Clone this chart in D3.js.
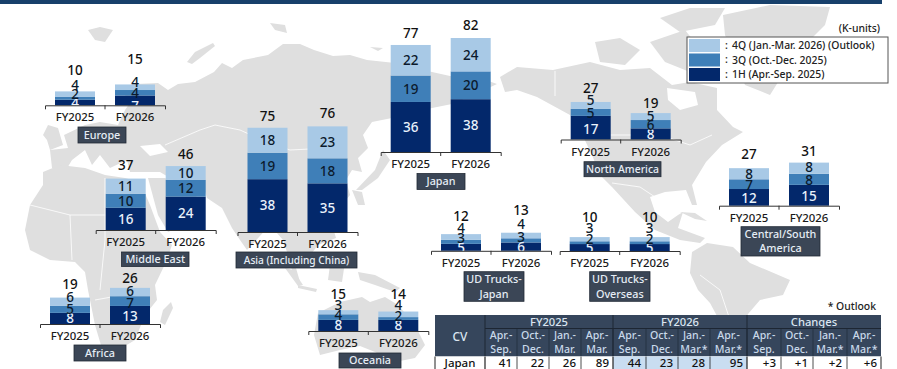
<!DOCTYPE html>
<html><head><meta charset="utf-8">
<script src="https://cdn.jsdelivr.net/npm/d3@7/dist/d3.min.js"></script>
<style>
html,body{margin:0;padding:0;background:#fff}
svg{display:block}
text{font-family:"Noto Sans",sans-serif;font-weight:500}
</style></head><body><svg id="c" width="897" height="369"></svg>
<script>
// ---------- data ----------
const years = ["FY2025","FY2026"];
const quarters = ["1H (Apr.-Sep. 2025)","3Q (Oct.-Dec. 2025)","4Q (Jan.-Mar. 2026) (Outlook)"];
const regions = ["Europe","Middle East","Africa","Asia (Including China)","Japan","North America","Central/South America","UD Trucks-Japan","UD Trucks-Overseas","Oceania"];
const fy2025Values = [[4,2,4],[16,10,11],[8,5,6],[38,19,18],[36,19,22],[17,5,5],[12,7,8],[5,3,4],[5,2,3],[8,4,3]];
const fy2026Values = [[7,4,4],[24,12,10],[13,7,6],[35,18,23],[38,20,24],[8,6,5],[15,8,8],[6,3,4],[5,2,3],[8,2,4]];
const fy2025Totals = [10,37,19,75,77,27,27,12,10,15];
const fy2026Totals = [15,46,26,76,82,19,31,13,10,14];
const tableGroups = ["FY2025","FY2026","Changes"];
const tableHead1 = ["Apr.-","Oct.-","Jan.-","Apr.-","Apr.-","Oct.-","Jan.-","Apr.-","Apr.-","Oct.-","Jan.-","Apr.-"];
const tableHead2 = ["Sep.","Dec.","Mar.","Mar.","Sep.","Dec.","Mar.*","Mar.*","Sep.","Dec.","Mar.*","Mar.*"];
const tableRowName = "Japan";
const tableRow = ["41","22","26","89","44","23","28","95","+3","+1","+2","+6"];

// ---------- layout (positions, not data) ----------
const layout = {
 "Europe":{x:45,base:105.3,box:[78,127,126,143],
   n25:[1,-4,-9,-9],n26:[6,0,-5,-13]},
 "Middle East":{x:95.7,base:230,box:[121.5,252,189,266.5],n25:[0,0,0,-1],n26:[0,0,0,0]},
 "Africa":{x:40,base:324,box:[74,345,126,361],n25:[0,0,-5,-1.5],n26:[1,2,-1,2]},
 "Asia (Including China)":{x:237.5,base:232,box:[236,252,357,268],n25:[0,0,0,0],n26:[0,0,0,-1]},
 "Japan":{x:380.7,base:152,box:[417,173.5,465,189.5],n25:[0,0,0,0],n26:[0,0,0,-1]},
 "North America":{x:560.7,base:139.5,box:[584,161.7,661,176.7],n25:[1,1,-5,-2],n26:[0.5,1,0,2]},
 "Central/South America":{x:719,base:205.7,box:[741,226.7,820,256],n25:[1,1,0,-2],n26:[1,1,-1,1]},
 "UD Trucks-Japan":{x:431,base:250.8,box:[464,271.7,524,301.3],n25:[0.5,-4,-8.5,-6],n26:[1,-3.5,-11,-11]},
 "UD Trucks-Overseas":{x:559.7,base:251,box:[589.7,271.7,650,301.3],n25:[1,-4,-11.5,-7.5],n26:[1,-4,-11.5,-7.5]},
 "Oceania":{x:308.3,base:331,box:[339,353,401,368],n25:[0,-2,-7,-4],n26:[0,-2.5,-9,-5]}
};
const boxLines = {"Central/South America":["Central/South","America"],"UD Trucks-Japan":["UD Trucks-","Japan"],"UD Trucks-Overseas":["UD Trucks-","Overseas"]};
const colors = ["#03286b","#3f7fb8","#a8c9e6"];
const labelColors = ["#eaf2fb","#0c1a2c","#0c1a2c"];
const navyText = "#1a1a1a";

// background map outlines (decorative, traced in page pixels)
const land = [
 [[120,92],[135,84],[158,83],[168,90],[178,84],[195,82],[214,72],[222,63],[232,68],[243,60],[268,55],[283,44],[300,44],[314,50],[333,56],[350,55],[367,60],[395,63],[432,72],[450,76],[480,78],[497,84],[480,92],[452,104],[432,108],[392,118],[372,122],[363,135],[368,148],[358,158],[362,172],[352,170],[346,180],[350,195],[338,210],[330,218],[336,238],[318,245],[305,262],[296,268],[300,282],[292,270],[288,255],[283,240],[270,225],[247,250],[240,240],[232,228],[222,208],[207,198],[203,185],[190,190],[160,172],[130,172],[127,160],[110,168],[100,155],[92,165],[85,150],[72,160],[66,170],[52,168],[50,150],[68,148],[64,135],[85,125],[100,122],[118,125],[125,110],[132,100]],
 [[48,125],[58,128],[63,145],[50,150],[47,140],[43,135]],
 [[43,172],[60,165],[85,168],[105,175],[125,178],[140,182],[150,205],[160,232],[172,245],[166,262],[155,285],[157,300],[145,315],[135,340],[115,352],[103,352],[95,325],[88,290],[85,272],[75,262],[50,260],[30,250],[25,230],[30,205],[43,185]],
 [[171,302],[173,308],[165,325],[160,322],[163,310]],
 [[148,178],[165,178],[190,190],[205,205],[195,220],[168,232],[158,215]],
 [[285,268],[293,270],[303,285],[298,286]],
 [[298,285],[317,289],[316,292],[298,288]],
 [[330,265],[345,262],[342,282],[328,280]],
 [[358,272],[375,275],[400,288],[395,292],[375,285],[360,280]],
 [[352,190],[362,192],[365,205],[358,205]],
 [[383,150],[390,160],[378,178],[362,190],[356,190],[375,170]],
 [[318,313],[340,302],[362,297],[370,302],[385,297],[398,305],[415,325],[425,345],[415,358],[395,362],[375,352],[360,346],[340,350],[320,355],[314,335]],
 [[500,77],[517,67],[553,70],[590,62],[620,70],[650,68],[672,85],[690,82],[717,88],[717,110],[733,127],[743,132],[722,145],[706,162],[692,185],[697,205],[692,205],[686,190],[665,192],[650,197],[655,212],[668,222],[678,215],[683,212],[678,228],[705,238],[700,243],[680,240],[655,230],[635,212],[612,187],[600,175],[592,155],[580,130],[570,115],[537,97],[517,90],[505,92]],
 [[595,42],[620,38],[640,50],[625,65],[600,62]],
 [[650,42],[685,30],[705,55],[690,72],[665,62]],
 [[660,18],[690,8],[725,8],[715,25],[680,32]],
 [[723,15],[770,5],[830,7],[825,25],[795,55],[770,95],[745,85],[735,60],[725,35]],
 [[680,212],[695,213],[707,221],[695,219]],
 [[690,273],[692,252],[707,243],[733,247],[750,263],[790,280],[783,295],[760,300],[748,314],[735,345],[722,369],[717,316],[710,303],[698,290]],
 [[88,30],[100,27],[113,30],[105,42],[95,40]],
 [[187,62],[195,52],[213,43],[215,46],[200,58],[192,64]],
 [[270,23],[285,25],[287,33],[275,30]],
 [[370,47],[383,48],[378,51]]
];
const water = [
 [[667,88],[695,92],[698,105],[680,110],[668,100]],
 [[140,146],[160,144],[168,152],[150,156]]
];
const borders = [
 [[165,145],[200,130],[215,125],[240,130],[262,140],[290,150],[330,148],[345,155]],
 [[570,118],[590,135],[660,135],[690,145],[712,135]],
 [[555,71],[555,96]],
 [[612,183],[640,187],[655,197]],
 [[30,205],[70,215],[105,215],[140,215]],
 [[70,215],[72,260]],[[105,178],[105,240],[100,290]],
 [[700,275],[720,290],[730,320]],[[95,300],[150,290]]
];

// ---------- drawing ----------
const svg = d3.select("#c");
const px = d3.line();
svg.append("g").selectAll("path").data(land).join("path").attr("d",d=>px(d)+"Z").attr("fill","#dfdfdf");
svg.append("g").selectAll("path").data(water).join("path").attr("d",d=>px(d)+"Z").attr("fill","#fff");
svg.append("g").selectAll("path").data(borders).join("path").attr("d",px).attr("fill","none").attr("stroke","#fff").attr("stroke-width",0.8);
svg.append("rect").attr("x",0).attr("y",0).attr("width",882).attr("height",4).attr("fill","#17406b");

const h = d3.scaleLinear().domain([0,100]).range([0,139]);
regions.forEach((name,i)=>{
  const L = layout[name];
  const xs = d3.scaleBand().domain(years).range([L.x,L.x+120]).paddingInner(1/3).paddingOuter(1/6);
  const g = svg.append("g");
  const clipId = "clip"+i;
  g.append("clipPath").attr("id",clipId).append("rect").attr("x",L.x).attr("y",0).attr("width",120).attr("height",L.base+0.5);
  years.forEach((yr,j)=>{
    const vals = j? fy2026Values[i]:fy2025Values[i];
    const total = j? fy2026Totals[i]:fy2025Totals[i];
    const nudges = j? L.n26:L.n25;
    let top = L.base;
    vals.forEach((v,k)=>{
      const bh = h(v);
      top -= bh;
      g.append("rect").attr("x",xs(yr)).attr("y",top).attr("width",xs.bandwidth()).attr("height",bh).attr("fill",colors[k]);
    });
    top = L.base;
    vals.forEach((v,k)=>{
      const bh = h(v);
      top -= bh;
      g.append("text").attr("clip-path",`url(#${clipId})`).attr("x",xs(yr)+xs.bandwidth()/2)
       .attr("y",top+bh/2+nudges[k]).attr("dy","0.36em").attr("text-anchor","middle")
       .attr("font-size",13.5).attr("fill",labelColors[k]).text(v);
    });
    g.append("text").attr("x",xs(yr)+xs.bandwidth()/2).attr("y",L.base-h(total)-12+nudges[3])
     .attr("dy","0.36em").attr("text-anchor","middle").attr("font-size",13.5).attr("fill","#111").text(total);
  });
  const ax = g.append("g").attr("transform",`translate(0,${L.base})`)
    .call(d3.axisBottom(xs).tickSize(0).tickSizeOuter(4).tickPadding(8));
  ax.select(".domain").attr("stroke","#333").attr("stroke-width",1);
  ax.selectAll("text").attr("font-size",11.4).attr("fill",navyText).attr("font-family",'"Noto Sans",sans-serif');
  g.append("line").attr("x1",L.x+60).attr("x2",L.x+60).attr("y1",L.base).attr("y2",L.base+4).attr("stroke","#333");
  const [bx0,by0,bx1,by1] = L.box;
  g.append("rect").attr("x",bx0).attr("y",by0).attr("width",bx1-bx0).attr("height",by1-by0)
    .attr("fill","#3b4656").attr("stroke","#222a36").attr("stroke-width",0.8);
  const lines = boxLines[name] || [name];
  const fs = name==="North America"?10.4:name==="Asia (Including China)"?10.2:10.8;
  lines.forEach((t,li)=>{
    g.append("text").attr("x",(bx0+bx1)/2).attr("y",(by0+by1)/2+(li-(lines.length-1)/2)*14.5)
     .attr("dy","0.36em").attr("text-anchor","middle").attr("font-size",fs).attr("fill","#e6edf5").text(t);
  });
});

// legend
const lg = svg.append("g");
lg.append("rect").attr("x",687).attr("y",37).attr("width",201).attr("height",46).attr("fill","#fff").attr("stroke","#555").attr("stroke-width",1);
const legendRows = [2,1,0];
const ly = d3.scaleBand().domain(legendRows).range([39,81]).paddingInner(0.1);
legendRows.forEach(k=>{
  lg.append("rect").attr("x",689).attr("y",ly(k)).attr("width",31).attr("height",ly.bandwidth()).attr("fill",colors[k]);
  lg.append("text").attr("x",725).attr("y",ly(k)+ly.bandwidth()/2).attr("dy","0.33em").attr("font-size",10.6).attr("fill","#222").text(":");
  lg.append("text").attr("x",732).attr("y",ly(k)+ly.bandwidth()/2).attr("dy","0.36em").attr("font-size",10.4).attr("fill","#222").text(quarters[k]);
});
svg.append("text").attr("x",880).attr("y",28).attr("dy","0.36em").attr("text-anchor","end").attr("font-size",10.4).attr("fill","#222").text("(K-units)");
svg.append("text").attr("x",876).attr("y",306).attr("dy","0.36em").attr("text-anchor","end").attr("font-size",10.4).attr("fill","#222").text("* Outlook");

// table
const colX = [485,517,549,581,613,646,678,710,747,781,813,847,881];
const t = svg.append("g");
const headFill = "#36465c";
t.append("rect").attr("x",435).attr("y",315).attr("width",446).attr("height",41.5).attr("fill",headFill);
t.append("rect").attr("x",435).attr("y",356.5).attr("width",446).attr("height",13).attr("fill","#fff");
t.append("rect").attr("x",colX[4]).attr("y",356.5).attr("width",colX[8]-colX[4]).attr("height",13).attr("fill","#c9ddf1");
t.append("text").attr("x",460).attr("y",337).attr("dy","0.36em").attr("text-anchor","middle").attr("font-size",12).attr("fill","#dbe5f0").text("CV");
tableGroups.forEach((g,i)=>{
  const a=colX[i*4], b=colX[i*4+4];
  t.append("text").attr("x",(a+b)/2).attr("y",322).attr("dy","0.36em").attr("text-anchor","middle").attr("font-size",11.2).attr("fill","#dbe5f0").text(g);
  t.append("line").attr("x1",a).attr("x2",a).attr("y1",315).attr("y2",356).attr("stroke","#1d2633");
});
t.append("line").attr("x1",485).attr("x2",881).attr("y1",328.5).attr("y2",328.5).attr("stroke","#1d2633");
tableHead1.forEach((s,i)=>{
  const c=(colX[i]+colX[i+1])/2;
  t.append("text").attr("x",c).attr("y",335.5).attr("dy","0.36em").attr("text-anchor","middle").attr("font-size",10.6).attr("fill","#c9d9ea").text(s);
  t.append("text").attr("x",c).attr("y",349).attr("dy","0.36em").attr("text-anchor","middle").attr("font-size",10.6).attr("fill","#c9d9ea").text(tableHead2[i]);
  t.append("text").attr("x",colX[i+1]-(i%4===3?4:5)).attr("y",363).attr("dy","0.36em").attr("text-anchor","end").attr("font-size",11.5).attr("fill","#111").text(tableRow[i]);
  if(i) t.append("line").attr("x1",colX[i]).attr("x2",colX[i]).attr("y1",329).attr("y2",356).attr("stroke","#1d2633").attr("stroke-width",0.6);
  t.append("line").attr("x1",colX[i]).attr("x2",colX[i]).attr("y1",356.5).attr("y2",369).attr("stroke","#222").attr("stroke-width",i%4===0?1.2:0.8);
});
t.append("line").attr("x1",881).attr("x2",881).attr("y1",356.5).attr("y2",369).attr("stroke","#222");
t.append("line").attr("x1",435).attr("x2",435).attr("y1",356.5).attr("y2",369).attr("stroke","#222");
t.append("text").attr("x",460).attr("y",363).attr("dy","0.36em").attr("text-anchor","middle").attr("font-size",11.5).attr("fill","#111").text(tableRowName);
</script></body></html>
